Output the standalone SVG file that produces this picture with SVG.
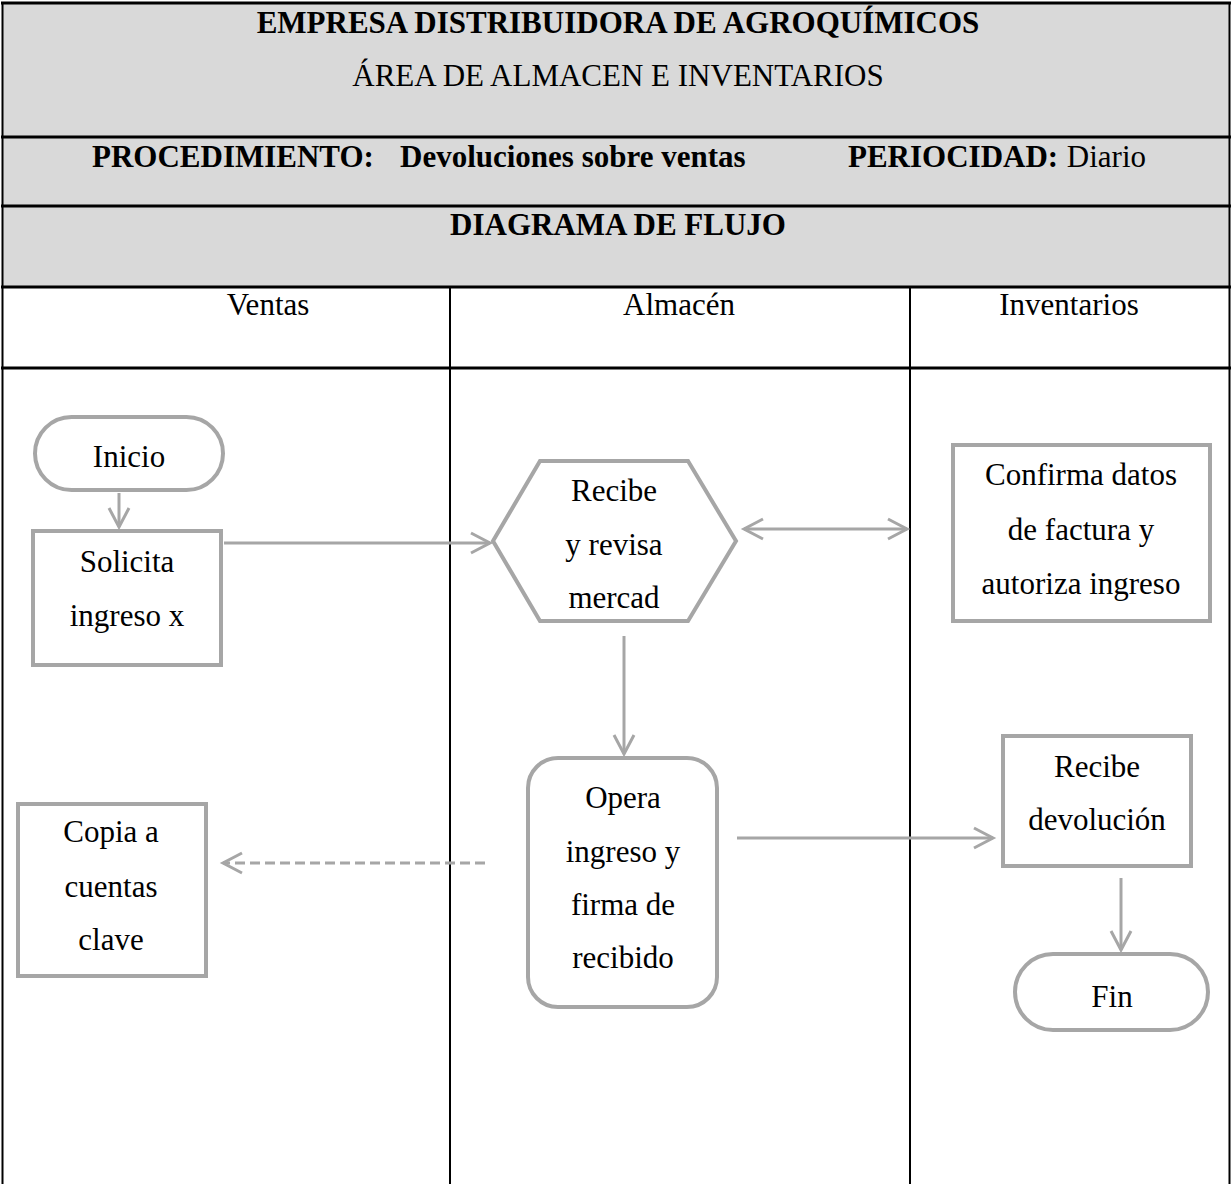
<svg xmlns="http://www.w3.org/2000/svg" width="1232" height="1184" viewBox="0 0 1232 1184" font-family="'Liberation Serif', 'DejaVu Serif', serif">
  <style>
    text { font-family: 'Liberation Serif', 'DejaVu Serif', serif; fill: #000; font-size: 31px; }
    .b { font-weight: bold; }
    .c { text-anchor: middle; }
    .grid { stroke: #000; fill: none; }
    .shape { fill: #fff; stroke: #a6a6a6; stroke-width: 4; }
    .link { fill: none; stroke: #a6a6a6; stroke-width: 3; }
  </style>
  <defs>
    <marker id="chev" markerUnits="userSpaceOnUse" markerWidth="26" markerHeight="26" viewBox="-22 -12 26 24" refX="0" refY="0" orient="auto-start-reverse">
      <path d="M-19,-10 L0,0 L-19,10" fill="none" stroke="#a6a6a6" stroke-width="3"/>
    </marker>
  </defs>

  <rect width="1232" height="1184" fill="#fff"/>

  <!-- title bands and swimlane grid -->
  <g id="header">
    <rect x="2" y="3" width="1228" height="284" fill="#d9d9d9"/>
    <line class="grid" x1="1" y1="3" x2="1231" y2="3" stroke-width="3"/>
    <line class="grid" x1="1" y1="137" x2="1231" y2="137" stroke-width="3"/>
    <line class="grid" x1="1" y1="206" x2="1231" y2="206" stroke-width="3"/>
    <line class="grid" x1="1" y1="287" x2="1231" y2="287" stroke-width="3"/>
    <line class="grid" x1="1" y1="368" x2="1231" y2="368" stroke-width="3"/>
    <line class="grid" x1="2.5" y1="2" x2="2.5" y2="1184" stroke-width="2"/>
    <line class="grid" x1="1229.5" y1="2" x2="1229.5" y2="1184" stroke-width="2"/>
    <line class="grid" x1="450" y1="287" x2="450" y2="1184" stroke-width="2"/>
    <line class="grid" x1="910" y1="287" x2="910" y2="1184" stroke-width="2"/>

    <text class="b c" x="618" y="33">EMPRESA DISTRIBUIDORA DE AGROQUÍMICOS</text>
    <text class="c" x="618" y="86">ÁREA DE ALMACEN E INVENTARIOS</text>
    <text class="b" x="92" y="167">PROCEDIMIENTO:</text>
    <text class="b" x="400" y="167">Devoluciones sobre ventas</text>
    <text class="b" x="848" y="167">PERIOCIDAD:</text>
    <text x="1146" y="167" text-anchor="end">Diario</text>
    <text class="b c" x="618" y="235">DIAGRAMA DE FLUJO</text>
    <text class="c" x="268" y="315">Ventas</text>
    <text class="c" x="679" y="315">Almacén</text>
    <text class="c" x="1069" y="315">Inventarios</text>
  </g>

  <!-- connectors -->
  <g id="connectors">
    <line class="link" x1="119" y1="493" x2="119" y2="527" marker-end="url(#chev)"/>
    <line class="link" x1="224" y1="543" x2="490" y2="543" marker-end="url(#chev)"/>
    <line class="link" x1="744" y1="529" x2="907" y2="529" marker-start="url(#chev)" marker-end="url(#chev)"/>
    <line class="link" x1="624" y1="636" x2="624" y2="754" marker-end="url(#chev)"/>
    <line class="link" x1="485" y1="863" x2="223" y2="863" stroke-dasharray="10 5" marker-end="url(#chev)"/>
    <line class="link" x1="737" y1="838" x2="993" y2="838" marker-end="url(#chev)"/>
    <line class="link" x1="1121" y1="878" x2="1121" y2="950" marker-end="url(#chev)"/>
  </g>

  <g id="inicio">
    <rect class="shape" x="35" y="417" width="188" height="73" rx="36.5"/>
    <text class="c" x="129" y="467">Inicio</text>
  </g>

  <g id="solicita">
    <rect class="shape" x="33" y="531" width="188" height="134"/>
    <text class="c" x="127" y="572">Solicita</text>
    <text class="c" x="127" y="626">ingreso x</text>
  </g>

  <g id="recibe-revisa">
    <polygon class="shape" points="540,461 688,461 736,541 688,621 540,621 493,541"/>
    <text class="c" x="614" y="501">Recibe</text>
    <text class="c" x="614" y="555">y revisa</text>
    <text class="c" x="614" y="608">mercad</text>
  </g>

  <g id="confirma">
    <rect class="shape" x="953" y="445" width="257" height="176"/>
    <text class="c" x="1081" y="485">Confirma datos</text>
    <text class="c" x="1081" y="540">de factura y</text>
    <text class="c" x="1081" y="594">autoriza ingreso</text>
  </g>

  <g id="opera">
    <rect class="shape" x="528" y="758" width="189" height="249" rx="30"/>
    <text class="c" x="623" y="808">Opera</text>
    <text class="c" x="623" y="862">ingreso y</text>
    <text class="c" x="623" y="915">firma de</text>
    <text class="c" x="623" y="968">recibido</text>
  </g>

  <g id="copia">
    <rect class="shape" x="18" y="804" width="188" height="172"/>
    <text class="c" x="111" y="842">Copia a</text>
    <text class="c" x="111" y="897">cuentas</text>
    <text class="c" x="111" y="950">clave</text>
  </g>

  <g id="recibe-devolucion">
    <rect class="shape" x="1003" y="736" width="188" height="130"/>
    <text class="c" x="1097" y="777">Recibe</text>
    <text class="c" x="1097" y="830">devolución</text>
  </g>

  <g id="fin">
    <rect class="shape" x="1015" y="954" width="193" height="76" rx="38"/>
    <text class="c" x="1112" y="1007">Fin</text>
  </g>
</svg>
